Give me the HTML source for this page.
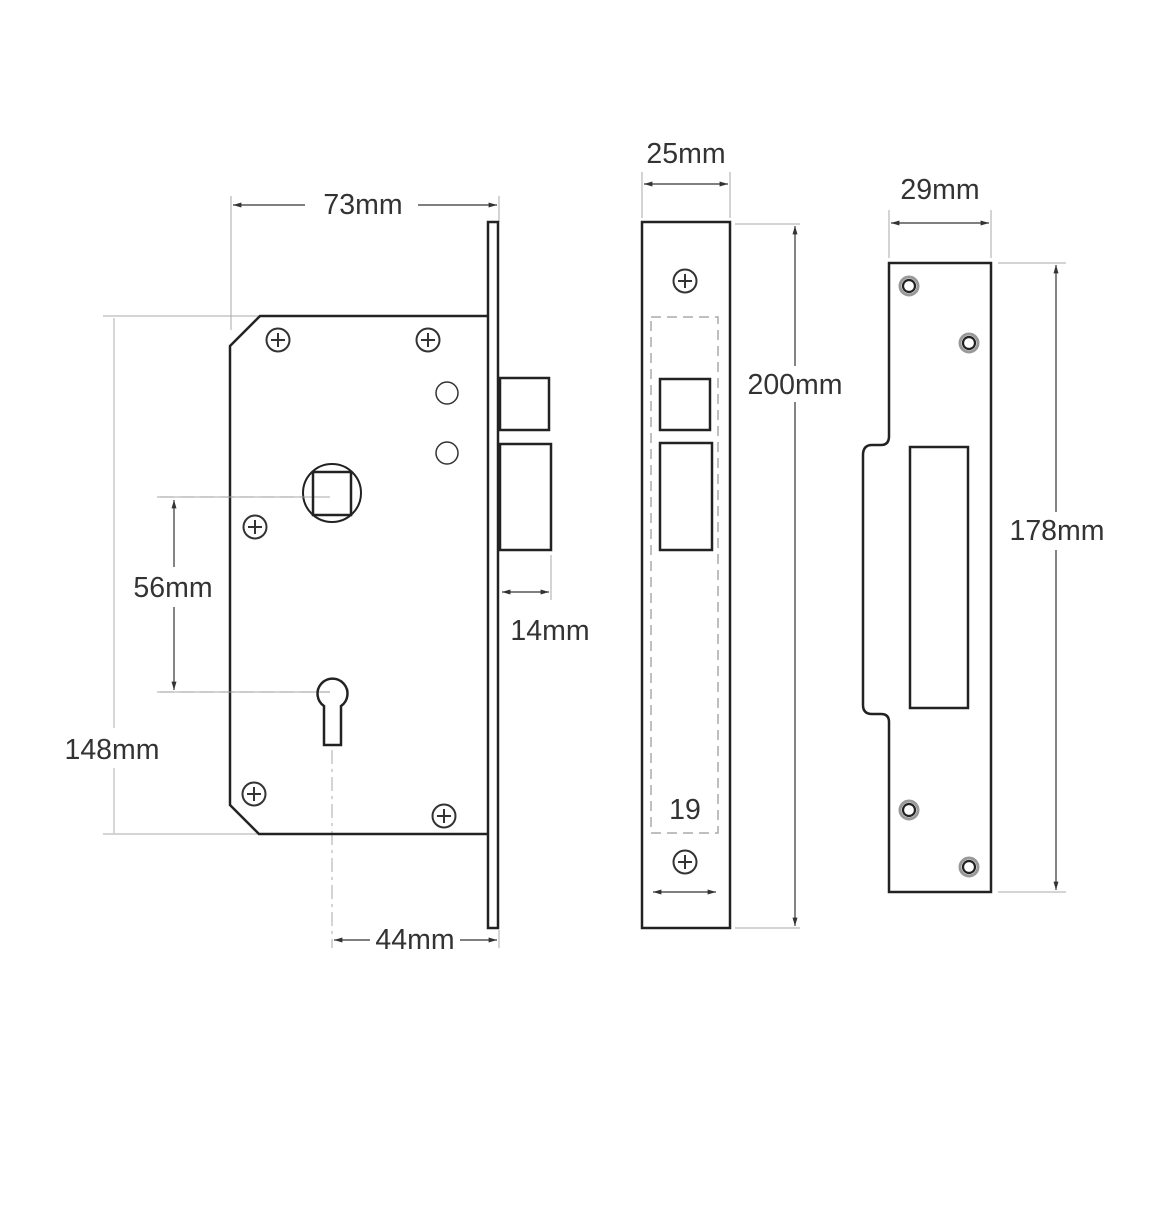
<!DOCTYPE html>
<html><head><meta charset="utf-8"><style>
html,body{margin:0;padding:0;background:#fff;}
svg{display:block;}
text{font-family:"Liberation Sans",sans-serif;font-size:28.5px;fill:#333;}
</style></head><body>
<svg width="1170" height="1207" viewBox="0 0 1170 1207" xmlns="http://www.w3.org/2000/svg">
<defs>
<marker id="a" viewBox="0 0 10 10" refX="10" refY="5" markerWidth="7" markerHeight="7" orient="auto-start-reverse"><path d="M0,2 L10,5 L0,8 z" fill="#333"/></marker>
<g id="scr"><circle r="11.5" fill="none" stroke="#333" stroke-width="2"/><path d="M-7,0H7M0,-7V7" stroke="#333" stroke-width="2"/></g>
<g id="hole"><circle r="9" fill="none" stroke="#999" stroke-width="3"/><circle r="6" fill="none" stroke="#222" stroke-width="2.2"/></g>
</defs>
<g stroke="#aaa" stroke-width="1" fill="none">
<path d="M231,196V330 M499,196V222"/>
<path d="M103,316H262 M103,834H262"/>
<path d="M157,497H330 M157,692H320"/>
<path d="M551,555V600"/>
<path d="M499,930V948"/>
<path d="M642,172V218 M730,172V218"/>
<path d="M735,224H800 M735,928H800"/>
<path d="M889,210V258 M991,210V258"/>
<path d="M998,263H1066 M998,892H1066"/>
<path d="M332,750V948" stroke-dasharray="14,5,3,5"/>
</g>
<g stroke="#333" stroke-width="1.2" fill="none">
<path d="M418,205H497" marker-end="url(#a)"/>
<path d="M233,205H305" marker-start="url(#a)"/>
<path d="M114,318V728 M114,768V833" stroke="#bbb"/>
<path d="M174,607V690" marker-end="url(#a)"/>
<path d="M174,500V567" marker-start="url(#a)"/>
<path d="M502,592H549" marker-start="url(#a)" marker-end="url(#a)"/>
<path d="M334,940H370" marker-start="url(#a)"/>
<path d="M460,940H497" marker-end="url(#a)"/>
<path d="M644,184H728" marker-start="url(#a)" marker-end="url(#a)"/>
<path d="M795,226V366" marker-start="url(#a)"/>
<path d="M795,402V926" marker-end="url(#a)"/>
<path d="M653,892H716" marker-start="url(#a)" marker-end="url(#a)"/>
<path d="M891,223H989" marker-start="url(#a)" marker-end="url(#a)"/>
<path d="M1056,265V512" marker-start="url(#a)"/>
<path d="M1056,550V890" marker-end="url(#a)"/>
</g>
<g stroke="#222" stroke-width="2.5" fill="none">
<path d="M488,316H260L230,346V805L259,834H488"/>
<rect x="488" y="222" width="10" height="706"/>
<rect x="500" y="378" width="49" height="52"/>
<rect x="500" y="444" width="51" height="106"/>
<circle cx="332" cy="493" r="29" stroke-width="2"/>
<rect x="313" y="472" width="38" height="43"/>
<path d="M324,745V706 A15,15 0 1 1 341,706 V745Z"/>
</g>
<path d="M160,692H330 M160,497H305" stroke="#999" stroke-width="1" stroke-dasharray="14,6" fill="none"/>
<g fill="none" stroke="#333" stroke-width="1.5"><circle cx="447" cy="393" r="11"/><circle cx="447" cy="453" r="11"/></g>
<use href="#scr" x="278" y="340"/><use href="#scr" x="428" y="340"/><use href="#scr" x="255" y="527"/><use href="#scr" x="254" y="794"/><use href="#scr" x="444" y="816"/>
<g stroke="#222" stroke-width="2.5" fill="none">
<rect x="642" y="222" width="88" height="706"/>
<rect x="660" y="379" width="50" height="51"/>
<rect x="660" y="443" width="52" height="107"/>
</g>
<rect x="651" y="317" width="67" height="516" fill="none" stroke="#aaa" stroke-width="1.5" stroke-dasharray="10,6"/>
<use href="#scr" x="685" y="281"/><use href="#scr" x="685" y="862"/>
<g stroke="#222" stroke-width="2.5" fill="none">
<path d="M889,263H991V892H889V722Q889,714 881,714H872Q863,714 863,705V455Q863,445 872,445H881Q889,445 889,436Z"/>
<rect x="910" y="447" width="58" height="261"/>
</g>
<use href="#hole" x="909" y="286"/><use href="#hole" x="969" y="343"/><use href="#hole" x="909" y="810"/><use href="#hole" x="969" y="867"/>
<text x="363" y="214" text-anchor="middle">73mm</text>
<text x="173" y="597" text-anchor="middle">56mm</text>
<text x="112" y="759" text-anchor="middle">148mm</text>
<text x="550" y="640" text-anchor="middle">14mm</text>
<text x="415" y="949" text-anchor="middle">44mm</text>
<text x="686" y="163" text-anchor="middle">25mm</text>
<text x="795" y="394" text-anchor="middle">200mm</text>
<text x="685" y="819" text-anchor="middle">19</text>
<text x="940" y="199" text-anchor="middle">29mm</text>
<text x="1057" y="540" text-anchor="middle">178mm</text>
</svg>
</body></html>
